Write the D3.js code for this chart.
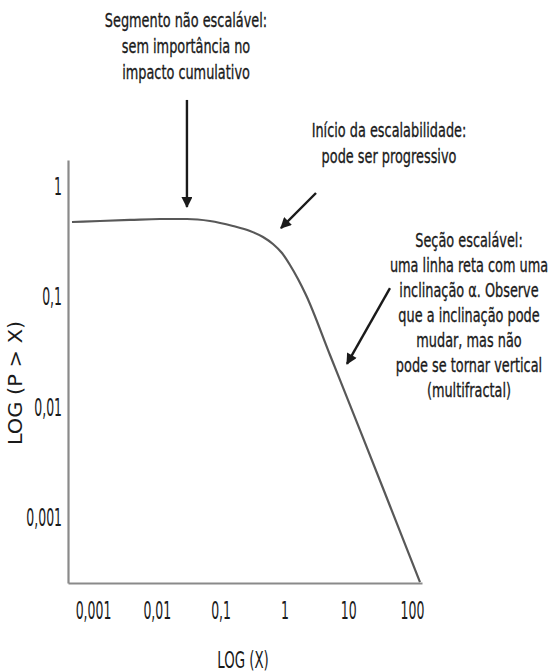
<!DOCTYPE html>
<html>
<head>
<meta charset="utf-8">
<script src="https://cdn.jsdelivr.net/npm/d3@7"></script>
<style>
  html, body { margin: 0; padding: 0; background: #fff; }
  svg { display: block; }
  text { font-family: "DejaVu Sans", sans-serif; fill: #1a1a1a; }
</style>
</head>
<body>
<svg id="chart" width="552" height="672"></svg>
<script>
// ---- data ----
const curveX = [0.000469, 0.00129, 0.0038, 0.0112, 0.0297, 0.0682, 0.156, 0.289, 0.462, 0.662,
                0.917, 1.224, 1.634, 2.181, 5.186, 15.31, 45.19, 133.4];
const curveY = [0.4674, 0.4772, 0.4873, 0.4975, 0.4975, 0.4772, 0.430, 0.3877, 0.3419, 0.2955,
                0.2449, 0.1908, 0.1425, 0.1021, 0.02924, 0.00612, 0.001259, 0.000258];
const xTickValues = [0.001, 0.01, 0.1, 1, 10, 100];
const xTickLabels = ["0,001", "0,01", "0,1", "1", "10", "100"];
const yTickValues = [1, 0.1, 0.01, 0.001];
const yTickLabels = ["1", "0,1", "0,01", "0,001"];
const xDomain = [0.000406, 143.5];
const yDomain = [0.000253, 1.70];
const xTitle = "LOG (X)";
const yTitle = "LOG (P > X)";

// annotations: text lines and arrow (start -> tip) in data coordinates
const annotations = [
  { lines: ["Segmento não escalável:", "sem importância no", "impacto cumulativo"],
    from: [0.0297, 5.94], to: [0.0297, 0.639] },
  { lines: ["Início da escalabilidade:", "pode ser progressivo"],
    from: [3.13, 0.855], to: [0.884, 0.412] },
  { lines: ["Seção escalável:", "uma linha reta com uma", "inclinação α. Observe",
            "que a inclinação pode", "mudar, mas não", "pode se tornar vertical", "(multifractal)"],
    from: [45.2, 0.118], to: [9.58, 0.0243] }
];
// text block layout (center x, first baseline, line pitch)
const annotationLayout = [
  { cx: 186, y0: 27, dy: 26 },
  { cx: 389, y0: 137, dy: 26 },
  { cx: 469, y0: 247, dy: 25 }
];

// ---- drawing ----
const svg = d3.select("#chart");
const x = d3.scaleLog().domain(xDomain).range([68, 422]);
const y = d3.scaleLog().domain(yDomain).range([583, 160]);

const axisColor = "#8a8a8a";
const TICK_SX = 0.52;   // horizontal condensing of tick labels
const ANN_SX = 0.66;    // horizontal condensing of annotation text

// x axis
const gx = svg.append("g").attr("transform", `translate(0,583)`)
  .call(d3.axisBottom(x).tickValues(xTickValues)
    .tickFormat((d, i) => xTickLabels[i]).tickSize(0).tickPadding(0));
gx.select(".domain").attr("stroke", axisColor).attr("stroke-width", 2.2);
gx.selectAll(".tick text")
  .attr("x", 0).attr("y", 36).attr("dy", null)
  .attr("transform", `scale(${TICK_SX},1)`)
  .style("font-size", "24px").style("font-family", "DejaVu Sans").attr("fill", "#1a1a1a");

// y axis
const gy = svg.append("g").attr("transform", `translate(68,0)`)
  .call(d3.axisLeft(y).tickValues(yTickValues)
    .tickFormat((d, i) => yTickLabels[i]).tickSize(0).tickPadding(6));
gy.select(".domain").attr("stroke", axisColor).attr("stroke-width", 2.2);
gy.selectAll(".tick text")
  .attr("x", -6 / TICK_SX).attr("dy", "0.36em")
  .attr("transform", `scale(${TICK_SX},1)`)
  .style("font-size", "24px").style("font-family", "DejaVu Sans").attr("fill", "#1a1a1a");

// axis titles
svg.append("g").attr("transform", "translate(243,668) scale(0.58,1)")
  .append("text").attr("text-anchor", "middle").style("font-size", "23px").text(xTitle);
svg.append("g").attr("transform", "translate(22,383) rotate(-90) scale(1.1,1)")
  .append("text").attr("text-anchor", "middle").style("font-size", "19px")
  .attr("fill", "#2a2a2a").text(yTitle);

// curve
const pts = curveX.map((d, i) => [d, curveY[i]]);
svg.append("path").datum(pts)
  .attr("fill", "none").attr("stroke", "#585858").attr("stroke-width", 2.2)
  .attr("d", d3.line().x(d => x(d[0])).y(d => y(d[1])).curve(d3.curveMonotoneX));

// arrowhead marker
svg.append("defs").append("marker")
  .attr("id", "ah").attr("viewBox", "0 0 10 10").attr("refX", 9).attr("refY", 5)
  .attr("markerWidth", 5.6).attr("markerHeight", 4.6).attr("markerUnits", "strokeWidth")
  .attr("orient", "auto")
  .append("path").attr("d", "M0,0 L10,5 L0,10 Z").attr("fill", "#1a1a1a");

annotations.forEach((a, i) => {
  const L = annotationLayout[i];
  a.lines.forEach((ln, j) => {
    svg.append("g").attr("transform", `translate(${L.cx},${L.y0 + j * L.dy}) scale(${ANN_SX},1)`)
      .append("text").attr("text-anchor", "middle").style("font-size", "19.5px")
      .attr("stroke", "#1a1a1a").attr("stroke-width", 0.35)
      .text(ln);
  });
  svg.append("line")
    .attr("x1", x(a.from[0])).attr("y1", y(a.from[1]))
    .attr("x2", x(a.to[0])).attr("y2", y(a.to[1]))
    .attr("stroke", "#1a1a1a").attr("stroke-width", 2.4)
    .attr("marker-end", "url(#ah)");
});
</script>
</body>
</html>
